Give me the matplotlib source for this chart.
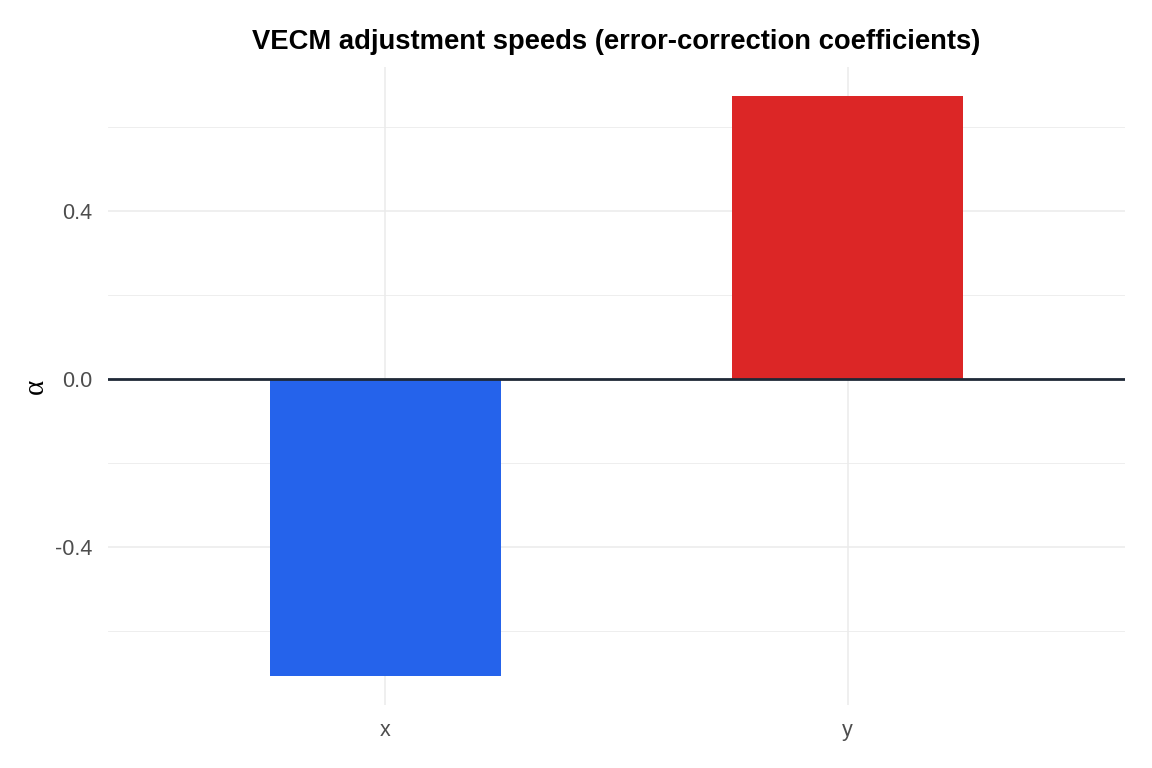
import matplotlib
matplotlib.use("Agg")
import matplotlib.pyplot as plt

plt.rcParams["font.family"] = ["Liberation Sans", "DejaVu Sans"]

# adjustment coefficients
variables = ["x", "y"]
alpha = [-0.707, 0.674]
bar_colors = ["#2563EB", "#DC2626"]

W, H = 1152, 768
fig = plt.figure(figsize=(W / 100, H / 100), dpi=100)
left, right, top, bottom = 108, 1125, 67, 705
ax = fig.add_axes([left / W, 1 - bottom / H, (right - left) / W, (bottom - top) / H])

pos = list(range(1, len(variables) + 1))
ax.bar(pos, alpha, width=0.5, color=bar_colors, zorder=2)
ax.axhline(0, color="#1F2937", linewidth=2, zorder=3)

lo, hi = min(min(alpha), 0), max(max(alpha), 0)
pad = (hi - lo) * 0.05
ax.set_ylim(lo - pad, hi + pad)
ax.set_xlim(0.4, len(variables) + 0.6)

ax.set_xticks(pos)
ax.set_xticklabels(variables)
ax.set_yticks([-0.4, 0.0, 0.4])
ax.set_yticklabels(["-0.4", "0.0", "0.4"])
ax.set_yticks([-0.6, -0.2, 0.2, 0.6], minor=True)

ax.grid(True, which="major", color="#EBEBEB", linewidth=1.1, zorder=0)
ax.grid(True, which="minor", axis="y", color="#EBEBEB", linewidth=0.6, zorder=0)
ax.set_axisbelow(True)
for s in ax.spines.values():
    s.set_visible(False)
ax.tick_params(which="both", length=0, labelsize=15.5, labelcolor="#4D4D4D")
ax.tick_params(axis="y", pad=11)
ax.tick_params(axis="x", pad=11)

ax.set_ylabel("α", fontsize=21, family=["Liberation Serif", "DejaVu Serif"], labelpad=5)
ax.set_title("VECM adjustment speeds (error-correction coefficients)",
             fontsize=19.7, fontweight="bold", pad=13)

fig.savefig("out.png", dpi=100)
